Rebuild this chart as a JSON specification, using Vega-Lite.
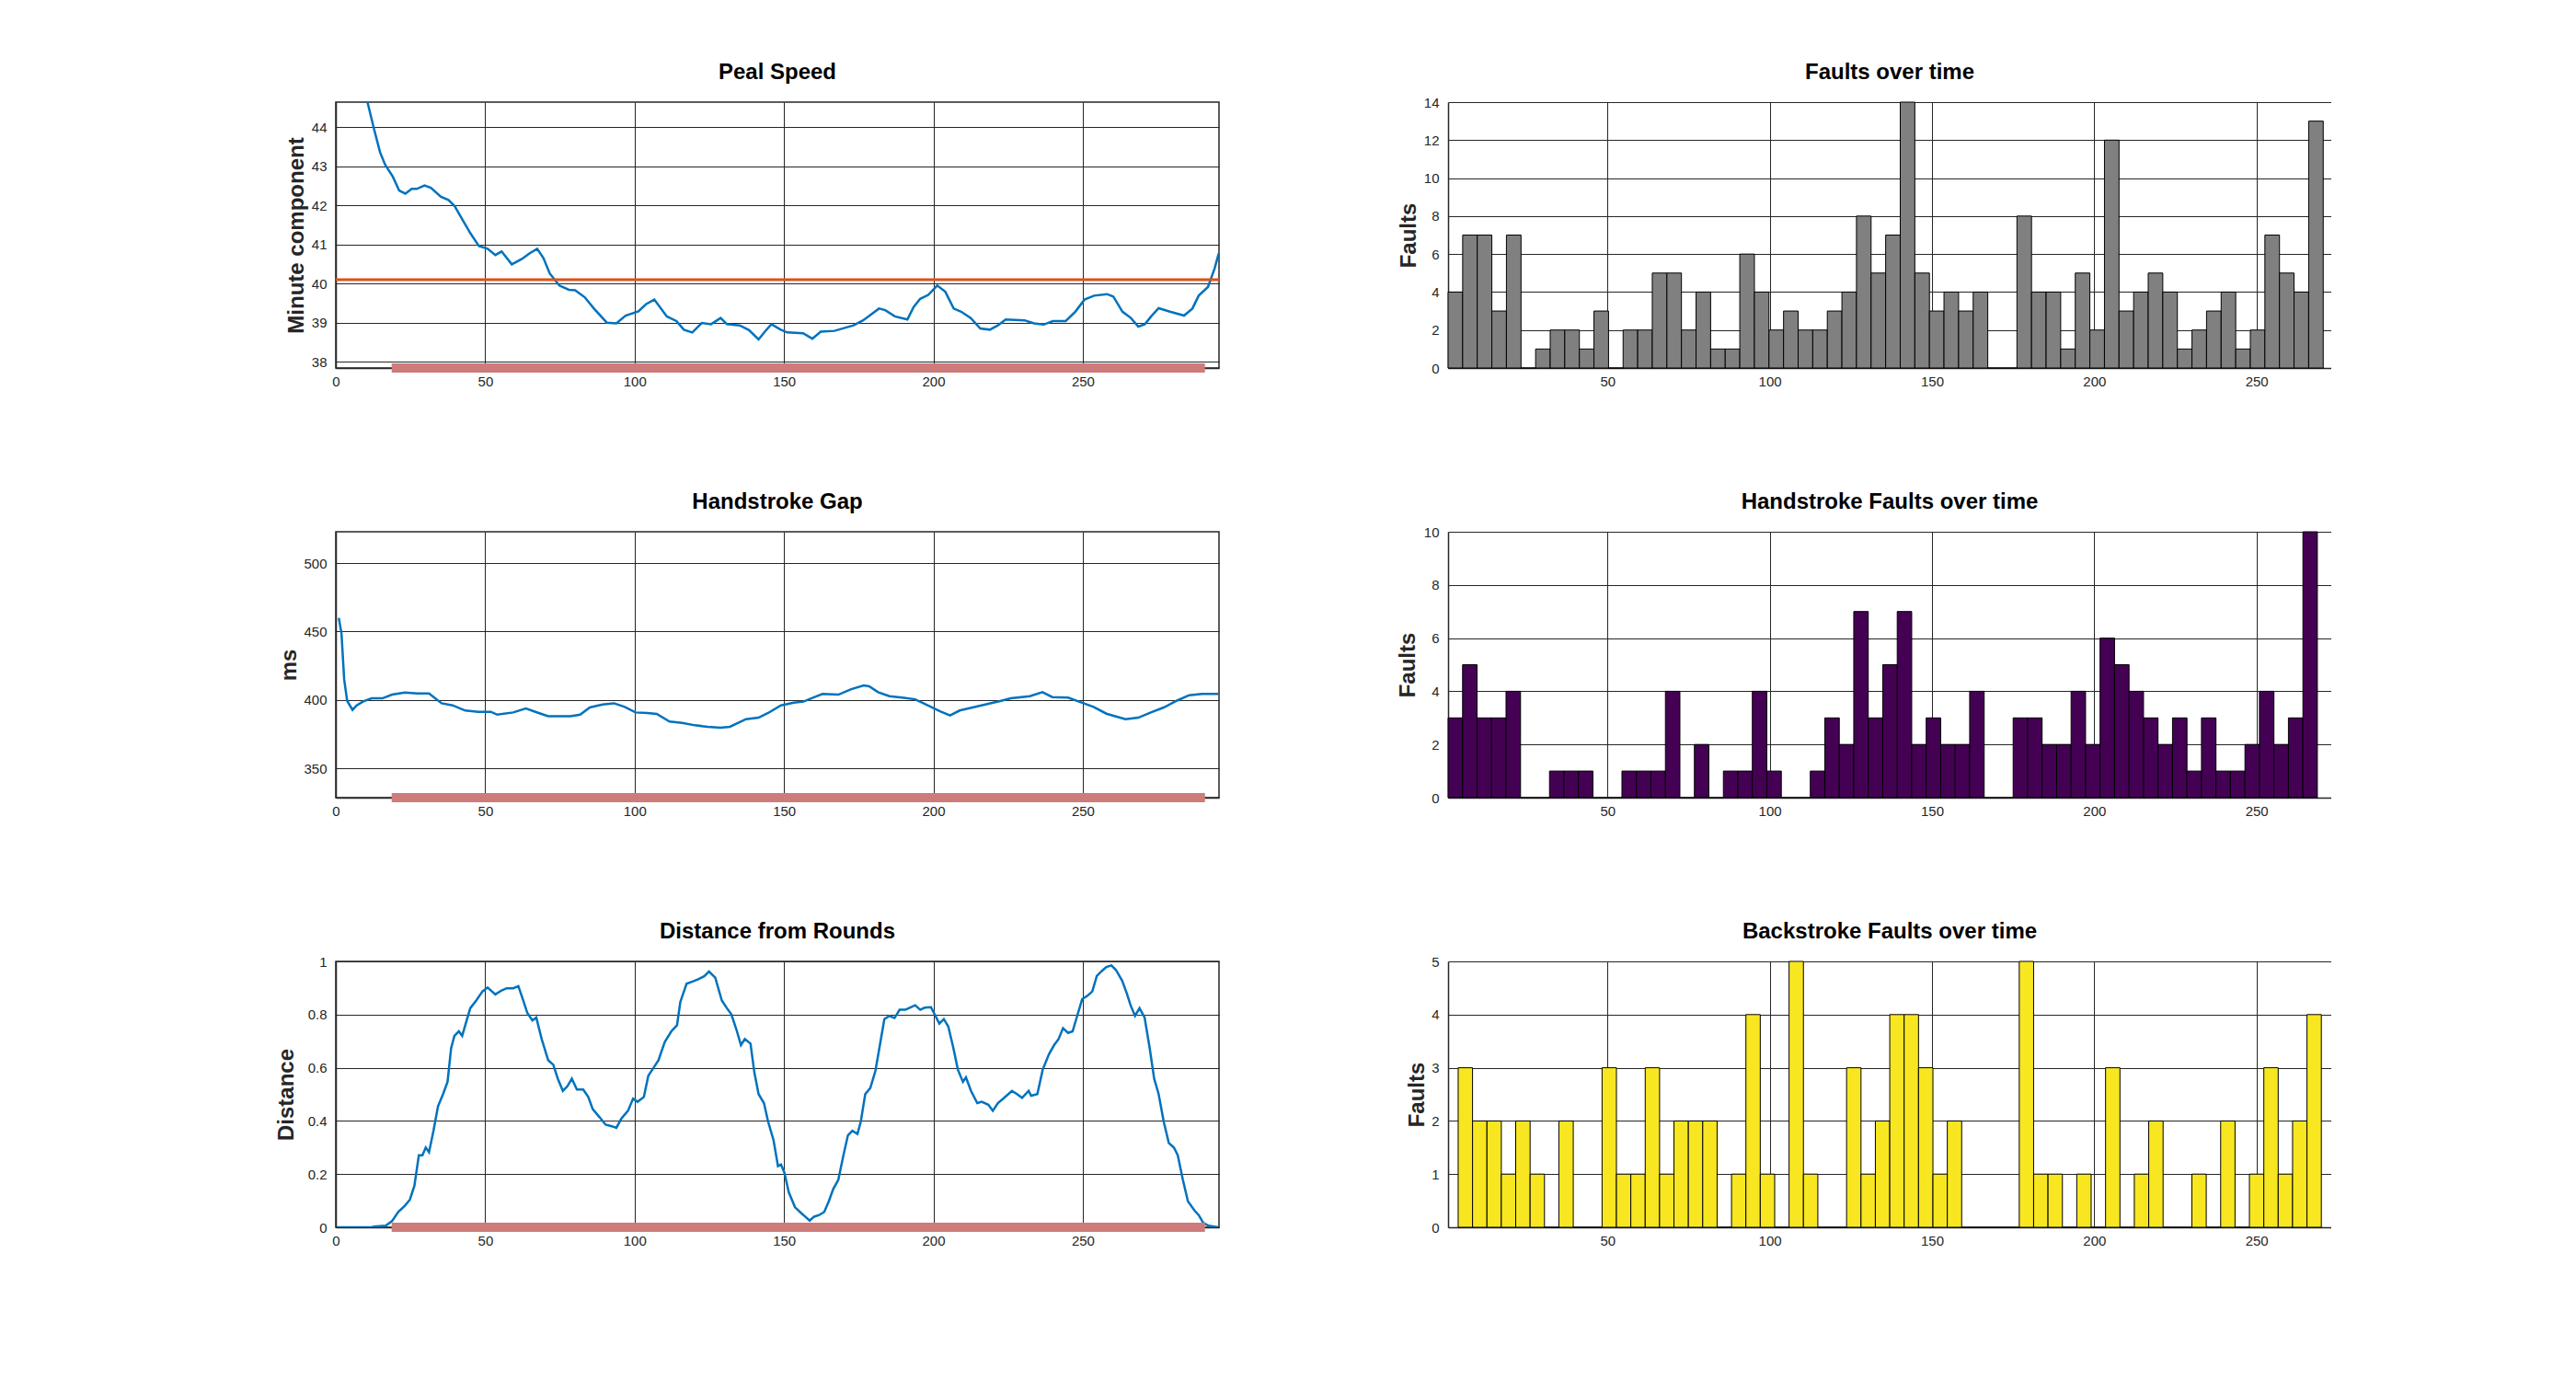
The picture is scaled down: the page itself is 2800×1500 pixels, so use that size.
{
  "$schema": "https://vega.github.io/schema/vega-lite/v6.json",
  "background": "white",
  "padding": {"left": 298, "top": 66, "right": 0, "bottom": 0},
  "config": {
    "font": "Liberation Sans",
    "view": {"stroke": null},
    "axis": {
      "labelFont": "Liberation Sans", "labelFontSize": 15, "labelColor": "#262626",
      "labelFlush": false, "labelOverlap": false, "ticks": false,
      "titleFont": "Liberation Sans", "titleFontSize": 24, "titleFontWeight": "bold", "titleColor": "#262626",
      "gridColor": "#262626", "gridOpacity": 1, "gridWidth": 1,
      "domainColor": "#262626", "domainWidth": 1.5, "zindex": 0
    },
    "axisX": {"labelPadding": 7},
    "axisY": {"labelPadding": 10, "titleBaseline": "middle"},
    "title": {"font": "Liberation Sans", "fontSize": 24, "fontWeight": "bold", "color": "#000000", "baseline": "alphabetic", "offset": 20}
  },
  "datasets": {
    "speed": [
      {"t":0,"v":47.6},{"t":3,"v":46.7},{"t":6,"v":45.8},{"t":9,"v":45.1},{"t":10.6,"v":44.64},{"t":12.7,"v":43.98},{"t":14.8,"v":43.36},{"t":16.5,"v":43.04},{"t":19.1,"v":42.73},{"t":21.2,"v":42.38},{"t":23.3,"v":42.3},{"t":25.4,"v":42.42},{"t":27.1,"v":42.42},{"t":29.7,"v":42.51},{"t":31.8,"v":42.45},{"t":35.2,"v":42.22},{"t":37.7,"v":42.14},{"t":39.8,"v":41.98},{"t":42.4,"v":41.63},{"t":45.1,"v":41.28},{"t":47.9,"v":40.96},{"t":50.8,"v":40.89},{"t":53.4,"v":40.73},{"t":55.5,"v":40.82},{"t":58.9,"v":40.49},{"t":62.3,"v":40.63},{"t":64.8,"v":40.77},{"t":67.4,"v":40.89},{"t":69.5,"v":40.65},{"t":71.6,"v":40.26},{"t":74.8,"v":39.95},{"t":78.0,"v":39.84},{"t":80.1,"v":39.83},{"t":83.3,"v":39.65},{"t":86.4,"v":39.36},{"t":90.7,"v":39.0},{"t":93.9,"v":38.98},{"t":97.0,"v":39.18},{"t":101.3,"v":39.29},{"t":103.8,"v":39.47},{"t":106.6,"v":39.59},{"t":110.8,"v":39.16},{"t":114.0,"v":39.04},{"t":116.5,"v":38.82},{"t":119.3,"v":38.75},{"t":122.5,"v":38.99},{"t":125.6,"v":38.96},{"t":128.8,"v":39.12},{"t":130.9,"v":38.96},{"t":135.2,"v":38.93},{"t":138.3,"v":38.81},{"t":141.5,"v":38.57},{"t":143.6,"v":38.77},{"t":145.8,"v":38.96},{"t":148.9,"v":38.82},{"t":151.1,"v":38.75},{"t":156.4,"v":38.73},{"t":159.5,"v":38.59},{"t":162.3,"v":38.77},{"t":166.9,"v":38.79},{"t":173.3,"v":38.93},{"t":176.5,"v":39.06},{"t":181.8,"v":39.36},{"t":183.9,"v":39.32},{"t":187.1,"v":39.16},{"t":191.3,"v":39.08},{"t":193.4,"v":39.4},{"t":195.6,"v":39.61},{"t":198.3,"v":39.71},{"t":201.3,"v":39.95},{"t":204.0,"v":39.79},{"t":206.8,"v":39.36},{"t":209.3,"v":39.28},{"t":212.5,"v":39.12},{"t":215.7,"v":38.85},{"t":218.9,"v":38.82},{"t":221.6,"v":38.93},{"t":224.2,"v":39.08},{"t":230.5,"v":39.06},{"t":233.7,"v":38.98},{"t":236.9,"v":38.95},{"t":240.0,"v":39.04},{"t":244.3,"v":39.04},{"t":247.5,"v":39.28},{"t":250.6,"v":39.59},{"t":253.8,"v":39.69},{"t":258.1,"v":39.73},{"t":260.2,"v":39.67},{"t":263.3,"v":39.28},{"t":266.1,"v":39.12},{"t":268.6,"v":38.9},{"t":270.8,"v":38.96},{"t":272.9,"v":39.16},{"t":275.4,"v":39.37},{"t":279.2,"v":39.28},{"t":283.9,"v":39.18},{"t":286.7,"v":39.36},{"t":288.8,"v":39.69},{"t":291.9,"v":39.91},{"t":294.1,"v":40.38},{"t":295.5,"v":40.77}
    ],
    "gap": [
      {"t":1,"v":459.9},{"t":1.9,"v":448.7},{"t":2.8,"v":415},{"t":3.8,"v":399.3},{"t":5.6,"v":392.6},{"t":7.0,"v":396},{"t":9.2,"v":398.9},{"t":12.0,"v":401.1},{"t":15.6,"v":401.1},{"t":18.8,"v":403.8},{"t":23.1,"v":405.4},{"t":27.3,"v":404.7},{"t":31.2,"v":404.7},{"t":35.4,"v":397.5},{"t":39.1,"v":396},{"t":43.3,"v":392.2},{"t":47.6,"v":391.3},{"t":51.9,"v":391.3},{"t":54.0,"v":389.2},{"t":59.4,"v":390.8},{"t":63.6,"v":393.7},{"t":67.9,"v":390.4},{"t":71.1,"v":388.1},{"t":74.3,"v":388.1},{"t":78.6,"v":388.1},{"t":81.8,"v":389.2},{"t":85.0,"v":394.4},{"t":89.3,"v":396.6},{"t":93.1,"v":397.5},{"t":96.7,"v":394.8},{"t":100.3,"v":390.8},{"t":104.2,"v":390.4},{"t":107.4,"v":389.7},{"t":111.7,"v":384.1},{"t":115.9,"v":383.2},{"t":120.2,"v":381.4},{"t":124.5,"v":380.3},{"t":128.7,"v":379.6},{"t":131.9,"v":380.3},{"t":137.3,"v":385.9},{"t":141.5,"v":387},{"t":144.7,"v":390.4},{"t":149.0,"v":396},{"t":153.3,"v":398},{"t":156.5,"v":398.7},{"t":159.7,"v":401.6},{"t":162.9,"v":404.3},{"t":168.2,"v":403.8},{"t":172.5,"v":407.8},{"t":176.7,"v":410.5},{"t":178.5,"v":409.9},{"t":181.5,"v":405.6},{"t":185.3,"v":402.7},{"t":189.6,"v":401.6},{"t":193.9,"v":400.4},{"t":198.1,"v":396},{"t":202.4,"v":391.5},{"t":205.6,"v":388.6},{"t":208.8,"v":392.2},{"t":213.1,"v":394.4},{"t":218.4,"v":397.1},{"t":222.7,"v":399.3},{"t":225.9,"v":401.1},{"t":232.3,"v":402.7},{"t":236.5,"v":405.6},{"t":239.8,"v":402},{"t":245.1,"v":401.6},{"t":249.4,"v":398.2},{"t":253.6,"v":394.8},{"t":257.9,"v":389.9},{"t":264.3,"v":385.9},{"t":268.6,"v":387},{"t":272.8,"v":390.8},{"t":277.1,"v":394.4},{"t":281.4,"v":399.3},{"t":285.6,"v":403.4},{"t":289.9,"v":404.3},{"t":295.3,"v":404.3}
    ],
    "dist": [
      {"t":0.6,"v":0},{"t":12,"v":0},{"t":12.8,"v":0.003},{"t":16.7,"v":0.006},{"t":18.8,"v":0.023},{"t":20.9,"v":0.058},{"t":23.1,"v":0.081},{"t":24.8,"v":0.104},{"t":26.3,"v":0.156},{"t":27.8,"v":0.271},{"t":29.0,"v":0.271},{"t":30.1,"v":0.3},{"t":31.2,"v":0.282},{"t":32.7,"v":0.363},{"t":34.2,"v":0.455},{"t":35.9,"v":0.501},{"t":37.4,"v":0.547},{"t":38.6,"v":0.674},{"t":39.7,"v":0.72},{"t":41.2,"v":0.737},{"t":42.3,"v":0.72},{"t":43.8,"v":0.778},{"t":45.0,"v":0.824},{"t":47.0,"v":0.853},{"t":49.1,"v":0.887},{"t":50.8,"v":0.902},{"t":53.4,"v":0.876},{"t":55.5,"v":0.891},{"t":57.2,"v":0.899},{"t":59.4,"v":0.899},{"t":61.1,"v":0.907},{"t":62.6,"v":0.858},{"t":64.1,"v":0.806},{"t":65.8,"v":0.778},{"t":67.1,"v":0.789},{"t":68.9,"v":0.708},{"t":71.1,"v":0.628},{"t":72.8,"v":0.611},{"t":74.3,"v":0.559},{"t":76.0,"v":0.513},{"t":77.5,"v":0.53},{"t":79.0,"v":0.559},{"t":80.7,"v":0.518},{"t":82.8,"v":0.518},{"t":84.5,"v":0.49},{"t":86.0,"v":0.444},{"t":88.2,"v":0.415},{"t":90.3,"v":0.386},{"t":92.4,"v":0.38},{"t":93.9,"v":0.374},{"t":95.6,"v":0.409},{"t":97.8,"v":0.438},{"t":99.5,"v":0.484},{"t":101.0,"v":0.472},{"t":103.1,"v":0.49},{"t":104.6,"v":0.57},{"t":106.3,"v":0.599},{"t":108.0,"v":0.628},{"t":110.1,"v":0.697},{"t":112.3,"v":0.737},{"t":114.2,"v":0.76},{"t":115.3,"v":0.847},{"t":117.4,"v":0.916},{"t":119.6,"v":0.925},{"t":121.3,"v":0.933},{"t":123.4,"v":0.945},{"t":124.9,"v":0.962},{"t":127.0,"v":0.939},{"t":129.2,"v":0.853},{"t":130.9,"v":0.824},{"t":132.4,"v":0.801},{"t":134.1,"v":0.743},{"t":135.6,"v":0.685},{"t":136.9,"v":0.708},{"t":138.8,"v":0.691},{"t":140.1,"v":0.582},{"t":141.5,"v":0.501},{"t":143.3,"v":0.467},{"t":144.7,"v":0.397},{"t":146.5,"v":0.328},{"t":148.0,"v":0.23},{"t":149.0,"v":0.236},{"t":150.1,"v":0.207},{"t":151.6,"v":0.132},{"t":153.7,"v":0.075},{"t":155.9,"v":0.052},{"t":157.1,"v":0.04},{"t":158.6,"v":0.025},{"t":160.1,"v":0.04},{"t":161.8,"v":0.046},{"t":163.5,"v":0.058},{"t":165.0,"v":0.098},{"t":166.5,"v":0.144},{"t":168.2,"v":0.179},{"t":169.9,"v":0.271},{"t":171.4,"v":0.346},{"t":172.9,"v":0.363},{"t":174.6,"v":0.351},{"t":175.7,"v":0.397},{"t":177.2,"v":0.501},{"t":178.9,"v":0.524},{"t":180.6,"v":0.588},{"t":182.1,"v":0.685},{"t":183.6,"v":0.783},{"t":185.3,"v":0.795},{"t":187.0,"v":0.787},{"t":188.7,"v":0.818},{"t":190.6,"v":0.818},{"t":192.1,"v":0.826},{"t":193.9,"v":0.835},{"t":195.6,"v":0.818},{"t":197.1,"v":0.826},{"t":199.2,"v":0.828},{"t":200.7,"v":0.795},{"t":202.0,"v":0.766},{"t":203.5,"v":0.783},{"t":205.0,"v":0.755},{"t":206.7,"v":0.674},{"t":208.2,"v":0.593},{"t":209.9,"v":0.547},{"t":210.9,"v":0.564},{"t":212.6,"v":0.513},{"t":214.7,"v":0.467},{"t":216.2,"v":0.472},{"t":218.4,"v":0.461},{"t":219.9,"v":0.438},{"t":221.6,"v":0.467},{"t":223.7,"v":0.487},{"t":226.3,"v":0.513},{"t":228.0,"v":0.501},{"t":229.7,"v":0.487},{"t":231.9,"v":0.513},{"t":232.7,"v":0.495},{"t":234.8,"v":0.501},{"t":236.6,"v":0.593},{"t":238.7,"v":0.651},{"t":240.4,"v":0.685},{"t":241.9,"v":0.708},{"t":243.4,"v":0.749},{"t":245.1,"v":0.731},{"t":246.6,"v":0.737},{"t":248.3,"v":0.801},{"t":249.8,"v":0.858},{"t":251.5,"v":0.87},{"t":253.2,"v":0.887},{"t":254.7,"v":0.945},{"t":256.2,"v":0.962},{"t":257.9,"v":0.979},{"t":259.6,"v":0.985},{"t":261.1,"v":0.968},{"t":263.2,"v":0.927},{"t":264.7,"v":0.881},{"t":266.0,"v":0.835},{"t":267.5,"v":0.795},{"t":269.0,"v":0.824},{"t":270.7,"v":0.789},{"t":272.4,"v":0.674},{"t":273.9,"v":0.559},{"t":275.4,"v":0.501},{"t":277.1,"v":0.397},{"t":278.8,"v":0.317},{"t":280.5,"v":0.3},{"t":281.8,"v":0.271},{"t":283.5,"v":0.179},{"t":285.2,"v":0.098},{"t":287.4,"v":0.063},{"t":288.8,"v":0.046},{"t":290.3,"v":0.017},{"t":292.1,"v":0.006},{"t":295.3,"v":0}
    ],
    "total": [
      {"t0":0.88,"t1":5.38,"n":4},{"t0":5.38,"t1":9.87,"n":7},{"t0":9.87,"t1":14.37,"n":7},{"t0":14.37,"t1":18.86,"n":3},{"t0":18.86,"t1":23.36,"n":7},{"t0":23.36,"t1":27.85,"n":0},{"t0":27.85,"t1":32.35,"n":1},{"t0":32.35,"t1":36.84,"n":2},{"t0":36.84,"t1":41.34,"n":2},{"t0":41.34,"t1":45.83,"n":1},{"t0":45.83,"t1":50.33,"n":3},{"t0":50.33,"t1":54.82,"n":0},{"t0":54.82,"t1":59.32,"n":2},{"t0":59.32,"t1":63.81,"n":2},{"t0":63.81,"t1":68.31,"n":5},{"t0":68.31,"t1":72.8,"n":5},{"t0":72.8,"t1":77.3,"n":2},{"t0":77.3,"t1":81.79,"n":4},{"t0":81.79,"t1":86.29,"n":1},{"t0":86.29,"t1":90.78,"n":1},{"t0":90.78,"t1":95.28,"n":6},{"t0":95.28,"t1":99.77,"n":4},{"t0":99.77,"t1":104.27,"n":2},{"t0":104.27,"t1":108.76,"n":3},{"t0":108.76,"t1":113.26,"n":2},{"t0":113.26,"t1":117.75,"n":2},{"t0":117.75,"t1":122.25,"n":3},{"t0":122.25,"t1":126.74,"n":4},{"t0":126.74,"t1":131.24,"n":8},{"t0":131.24,"t1":135.73,"n":5},{"t0":135.73,"t1":140.23,"n":7},{"t0":140.23,"t1":144.72,"n":14},{"t0":144.72,"t1":149.22,"n":5},{"t0":149.22,"t1":153.71,"n":3},{"t0":153.71,"t1":158.21,"n":4},{"t0":158.21,"t1":162.7,"n":3},{"t0":162.7,"t1":167.2,"n":4},{"t0":167.2,"t1":171.69,"n":0},{"t0":171.69,"t1":176.19,"n":0},{"t0":176.19,"t1":180.68,"n":8},{"t0":180.68,"t1":185.18,"n":4},{"t0":185.18,"t1":189.67,"n":4},{"t0":189.67,"t1":194.17,"n":1},{"t0":194.17,"t1":198.66,"n":5},{"t0":198.66,"t1":203.16,"n":2},{"t0":203.16,"t1":207.65,"n":12},{"t0":207.65,"t1":212.15,"n":3},{"t0":212.15,"t1":216.64,"n":4},{"t0":216.64,"t1":221.14,"n":5},{"t0":221.14,"t1":225.63,"n":4},{"t0":225.63,"t1":230.13,"n":1},{"t0":230.13,"t1":234.62,"n":2},{"t0":234.62,"t1":239.12,"n":3},{"t0":239.12,"t1":243.61,"n":4},{"t0":243.61,"t1":248.11,"n":1},{"t0":248.11,"t1":252.6,"n":2},{"t0":252.6,"t1":257.1,"n":7},{"t0":257.1,"t1":261.59,"n":5},{"t0":261.59,"t1":266.09,"n":4},{"t0":266.09,"t1":270.58,"n":13}
    ],
    "hand": [
      {"t0":0.88,"t1":5.35,"n":3},{"t0":5.35,"t1":9.81,"n":5},{"t0":9.81,"t1":14.28,"n":3},{"t0":14.28,"t1":18.74,"n":3},{"t0":18.74,"t1":23.21,"n":4},{"t0":23.21,"t1":27.67,"n":0},{"t0":27.67,"t1":32.14,"n":0},{"t0":32.14,"t1":36.6,"n":1},{"t0":36.6,"t1":41.07,"n":1},{"t0":41.07,"t1":45.53,"n":1},{"t0":45.53,"t1":50.0,"n":0},{"t0":50.0,"t1":54.46,"n":0},{"t0":54.46,"t1":58.93,"n":1},{"t0":58.93,"t1":63.39,"n":1},{"t0":63.39,"t1":67.86,"n":1},{"t0":67.86,"t1":72.32,"n":4},{"t0":72.32,"t1":76.79,"n":0},{"t0":76.79,"t1":81.25,"n":2},{"t0":81.25,"t1":85.72,"n":0},{"t0":85.72,"t1":90.18,"n":1},{"t0":90.18,"t1":94.65,"n":1},{"t0":94.65,"t1":99.11,"n":4},{"t0":99.11,"t1":103.58,"n":1},{"t0":103.58,"t1":108.04,"n":0},{"t0":108.04,"t1":112.51,"n":0},{"t0":112.51,"t1":116.97,"n":1},{"t0":116.97,"t1":121.44,"n":3},{"t0":121.44,"t1":125.9,"n":2},{"t0":125.9,"t1":130.37,"n":7},{"t0":130.37,"t1":134.83,"n":3},{"t0":134.83,"t1":139.3,"n":5},{"t0":139.3,"t1":143.76,"n":7},{"t0":143.76,"t1":148.23,"n":2},{"t0":148.23,"t1":152.69,"n":3},{"t0":152.69,"t1":157.16,"n":2},{"t0":157.16,"t1":161.62,"n":2},{"t0":161.62,"t1":166.09,"n":4},{"t0":166.09,"t1":170.55,"n":0},{"t0":170.55,"t1":175.02,"n":0},{"t0":175.02,"t1":179.48,"n":3},{"t0":179.48,"t1":183.95,"n":3},{"t0":183.95,"t1":188.41,"n":2},{"t0":188.41,"t1":192.88,"n":2},{"t0":192.88,"t1":197.34,"n":4},{"t0":197.34,"t1":201.81,"n":2},{"t0":201.81,"t1":206.27,"n":6},{"t0":206.27,"t1":210.74,"n":5},{"t0":210.74,"t1":215.2,"n":4},{"t0":215.2,"t1":219.67,"n":3},{"t0":219.67,"t1":224.13,"n":2},{"t0":224.13,"t1":228.6,"n":3},{"t0":228.6,"t1":233.06,"n":1},{"t0":233.06,"t1":237.53,"n":3},{"t0":237.53,"t1":241.99,"n":1},{"t0":241.99,"t1":246.46,"n":1},{"t0":246.46,"t1":250.92,"n":2},{"t0":250.92,"t1":255.39,"n":4},{"t0":255.39,"t1":259.85,"n":2},{"t0":259.85,"t1":264.32,"n":3},{"t0":264.32,"t1":268.78,"n":10}
    ],
    "back": [
      {"t0":3.99,"t1":8.42,"n":3},{"t0":8.42,"t1":12.86,"n":2},{"t0":12.86,"t1":17.29,"n":2},{"t0":17.29,"t1":21.72,"n":1},{"t0":21.72,"t1":26.16,"n":2},{"t0":26.16,"t1":30.59,"n":1},{"t0":30.59,"t1":35.02,"n":0},{"t0":35.02,"t1":39.46,"n":2},{"t0":39.46,"t1":43.89,"n":0},{"t0":43.89,"t1":48.33,"n":0},{"t0":48.33,"t1":52.76,"n":3},{"t0":52.76,"t1":57.19,"n":1},{"t0":57.19,"t1":61.63,"n":1},{"t0":61.63,"t1":66.06,"n":3},{"t0":66.06,"t1":70.49,"n":1},{"t0":70.49,"t1":74.93,"n":2},{"t0":74.93,"t1":79.36,"n":2},{"t0":79.36,"t1":83.79,"n":2},{"t0":83.79,"t1":88.23,"n":0},{"t0":88.23,"t1":92.66,"n":1},{"t0":92.66,"t1":97.09,"n":4},{"t0":97.09,"t1":101.53,"n":1},{"t0":101.53,"t1":105.96,"n":0},{"t0":105.96,"t1":110.39,"n":5},{"t0":110.39,"t1":114.83,"n":1},{"t0":114.83,"t1":119.26,"n":0},{"t0":119.26,"t1":123.69,"n":0},{"t0":123.69,"t1":128.13,"n":3},{"t0":128.13,"t1":132.56,"n":1},{"t0":132.56,"t1":137.0,"n":2},{"t0":137.0,"t1":141.43,"n":4},{"t0":141.43,"t1":145.86,"n":4},{"t0":145.86,"t1":150.3,"n":3},{"t0":150.3,"t1":154.73,"n":1},{"t0":154.73,"t1":159.16,"n":2},{"t0":159.16,"t1":163.6,"n":0},{"t0":163.6,"t1":168.03,"n":0},{"t0":168.03,"t1":172.46,"n":0},{"t0":172.46,"t1":176.9,"n":0},{"t0":176.9,"t1":181.33,"n":5},{"t0":181.33,"t1":185.76,"n":1},{"t0":185.76,"t1":190.2,"n":1},{"t0":190.2,"t1":194.63,"n":0},{"t0":194.63,"t1":199.06,"n":1},{"t0":199.06,"t1":203.5,"n":0},{"t0":203.5,"t1":207.93,"n":3},{"t0":207.93,"t1":212.36,"n":0},{"t0":212.36,"t1":216.8,"n":1},{"t0":216.8,"t1":221.23,"n":2},{"t0":221.23,"t1":225.67,"n":0},{"t0":225.67,"t1":230.1,"n":0},{"t0":230.1,"t1":234.53,"n":1},{"t0":234.53,"t1":238.97,"n":0},{"t0":238.97,"t1":243.4,"n":2},{"t0":243.4,"t1":247.83,"n":0},{"t0":247.83,"t1":252.27,"n":1},{"t0":252.27,"t1":256.7,"n":3},{"t0":256.7,"t1":261.13,"n":1},{"t0":261.13,"t1":265.57,"n":2},{"t0":265.57,"t1":270.0,"n":4}
    ],
    "speedRef": [{"v": 40.1}],
    "speedBand": [{"t0": 18.7, "t1": 290.9, "v": 37.84}],
    "gapBand": [{"t0": 18.7, "t1": 290.9, "v": 328.5}],
    "distBand": [{"t0": 18.7, "t1": 290.9, "v": 0}]
  },
  "columns": 2,
  "spacing": {"row": 110, "column": 190},
  "concat": [
    {
      "width": 960, "height": 289,
      "title": {"text": "Peal Speed", "offset": 20},
      "view": {"stroke": "#262626", "strokeWidth": 1.5},
      "layer": [
        {
          "data": {"name": "speed"},
          "mark": {"type": "line", "color": "#0072bd", "strokeWidth": 2.5, "clip": true},
          "encoding": {
            "x": {"field": "t", "type": "quantitative", "scale": {"domain": [0, 295.6], "nice": false, "zero": false}, "axis": {"values": [0, 50, 100, 150, 200, 250], "title": null}},
            "y": {"field": "v", "type": "quantitative", "scale": {"domain": [37.84, 44.64], "nice": false, "zero": false}, "axis": {"values": [38, 39, 40, 41, 42, 43, 44], "title": "Minute component", "titleX": -43}}
          }
        },
        {
          "data": {"name": "speedRef"},
          "mark": {"type": "rule", "color": "#d95319", "strokeWidth": 3},
          "encoding": {"y": {"field": "v", "type": "quantitative"}}
        },
        {
          "data": {"name": "speedBand"},
          "mark": {"type": "rule", "color": "#cd7b7b", "strokeWidth": 10},
          "encoding": {"x": {"field": "t0", "type": "quantitative"}, "x2": {"field": "t1"}, "y": {"field": "v", "type": "quantitative"}}
        }
      ]
    },
    {
      "width": 960, "height": 289,
      "title": {"text": "Faults over time", "offset": 13},
      "data": {"name": "total"},
      "mark": {"type": "rect", "color": "#808080", "stroke": "#000000", "strokeWidth": 1},
      "encoding": {
        "x": {"field": "t0", "type": "quantitative", "scale": {"domain": [0.88, 273.06], "nice": false, "zero": false}, "axis": {"values": [50, 100, 150, 200, 250], "title": null}},
        "x2": {"field": "t1"},
        "y": {"field": "n", "type": "quantitative", "scale": {"domain": [0, 14], "nice": false}, "axis": {"values": [0, 2, 4, 6, 8, 10, 12, 14], "title": "Faults", "titleX": -43}},
        "y2": {"datum": 0}
      }
    },
    {
      "width": 960, "height": 289,
      "title": {"text": "Handstroke Gap", "offset": 20},
      "view": {"stroke": "#262626", "strokeWidth": 1.5},
      "layer": [
        {
          "data": {"name": "gap"},
          "mark": {"type": "line", "color": "#0072bd", "strokeWidth": 2.5, "clip": true},
          "encoding": {
            "x": {"field": "t", "type": "quantitative", "scale": {"domain": [0, 295.6], "nice": false, "zero": false}, "axis": {"values": [0, 50, 100, 150, 200, 250], "title": null}},
            "y": {"field": "v", "type": "quantitative", "scale": {"domain": [328.5, 522.9], "nice": false, "zero": false}, "axis": {"values": [350, 400, 450, 500], "title": "ms", "titleX": -51}}
          }
        },
        {
          "data": {"name": "gapBand"},
          "mark": {"type": "rule", "color": "#cd7b7b", "strokeWidth": 10},
          "encoding": {"x": {"field": "t0", "type": "quantitative"}, "x2": {"field": "t1"}, "y": {"field": "v", "type": "quantitative"}}
        }
      ]
    },
    {
      "width": 960, "height": 289,
      "title": {"text": "Handstroke Faults over time", "offset": 13},
      "data": {"name": "hand"},
      "mark": {"type": "rect", "color": "#440154", "stroke": "#000000", "strokeWidth": 1},
      "encoding": {
        "x": {"field": "t0", "type": "quantitative", "scale": {"domain": [0.88, 273.06], "nice": false, "zero": false}, "axis": {"values": [50, 100, 150, 200, 250], "title": null}},
        "x2": {"field": "t1"},
        "y": {"field": "n", "type": "quantitative", "scale": {"domain": [0, 10], "nice": false}, "axis": {"values": [0, 2, 4, 6, 8, 10], "title": "Faults", "titleX": -44}},
        "y2": {"datum": 0}
      }
    },
    {
      "width": 960, "height": 289,
      "title": {"text": "Distance from Rounds", "offset": 13},
      "view": {"stroke": "#262626", "strokeWidth": 1.5},
      "layer": [
        {
          "data": {"name": "dist"},
          "mark": {"type": "line", "color": "#0072bd", "strokeWidth": 2.5, "clip": true},
          "encoding": {
            "x": {"field": "t", "type": "quantitative", "scale": {"domain": [0, 295.6], "nice": false, "zero": false}, "axis": {"values": [0, 50, 100, 150, 200, 250], "title": null}},
            "y": {"field": "v", "type": "quantitative", "scale": {"domain": [0, 1], "nice": false}, "axis": {"values": [0, 0.2, 0.4, 0.6, 0.8, 1], "format": "~g", "title": "Distance", "titleX": -54}}
          }
        },
        {
          "data": {"name": "distBand"},
          "mark": {"type": "rule", "color": "#cd7b7b", "strokeWidth": 10},
          "encoding": {"x": {"field": "t0", "type": "quantitative"}, "x2": {"field": "t1"}, "y": {"field": "v", "type": "quantitative"}}
        }
      ]
    },
    {
      "width": 960, "height": 289,
      "title": {"text": "Backstroke Faults over time", "offset": 13},
      "data": {"name": "back"},
      "mark": {"type": "rect", "color": "#f8e621", "stroke": "#000000", "strokeWidth": 1},
      "encoding": {
        "x": {"field": "t0", "type": "quantitative", "scale": {"domain": [0.88, 273.06], "nice": false, "zero": false}, "axis": {"values": [50, 100, 150, 200, 250], "title": null}},
        "x2": {"field": "t1"},
        "y": {"field": "n", "type": "quantitative", "scale": {"domain": [0, 5], "nice": false}, "axis": {"values": [0, 1, 2, 3, 4, 5], "title": "Faults", "titleX": -34}},
        "y2": {"datum": 0}
      }
    }
  ]
}
